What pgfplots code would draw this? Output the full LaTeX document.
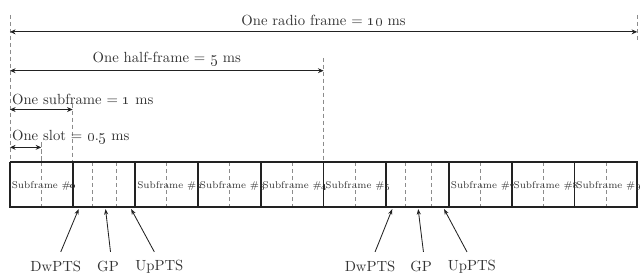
\documentclass[border=0pt]{standalone}
\usepackage{pgfplots}
\pgfplotsset{compat=1.18}
\usetikzlibrary{arrows.meta}
\definecolor{txt}{HTML}{333333}
\definecolor{ln}{HTML}{222222}
\definecolor{dsh}{HTML}{8C8C8C}
\newcommand{\os}[1]{\oldstylenums{#1}}
\tikzset{sflab/.style={txt, anchor=west, inner sep=0pt, font=\fontsize{7.0}{8}\selectfont}}
\begin{document}
\begin{tikzpicture}
\begin{axis}[
  width=16.03cm, height=6.952cm, scale only axis, hide axis, clip=false,
  xmin=-0.1587, xmax=10.016, ymin=0, ymax=278, y dir=reverse,
]
\path (rel axis cs:0,0) rectangle (rel axis cs:1,1);
% vertical dashed guides
\addplot[dsh, densely dashed, line width=0.5pt] coordinates {(0,15) (0,163)};
\addplot[dsh, densely dashed, line width=0.5pt] coordinates {(5,58) (5,163)};
\addplot[dsh, densely dashed, line width=0.5pt] coordinates {(10,15) (10,40)};
\addplot[dsh, densely dashed, line width=0.5pt] coordinates {(1,104) (1,163)};
\addplot[dsh, densely dashed, line width=0.5pt] coordinates {(0.5,143) (0.5,163)};
% slot dashed lines inside subframes
\foreach \k in {0,2,3,4,5,7,8,9} {
  \addplot[dsh, densely dashed, line width=0.4pt] coordinates {(\k+0.5,163) (\k+0.5,208)};
}
% special subframe field boundaries
\addplot[dsh, densely dashed, line width=0.4pt] coordinates {(1.31,163) (1.31,208)};
\addplot[dsh, densely dashed, line width=0.4pt] coordinates {(1.70,163) (1.70,208)};
\addplot[dsh, densely dashed, line width=0.4pt] coordinates {(6.31,163) (6.31,208)};
\addplot[dsh, densely dashed, line width=0.4pt] coordinates {(6.71,163) (6.71,208)};
% frame box
\addplot[ln, line width=1.3pt] coordinates {(0,163) (10,163) (10,208) (0,208) (0,163)};
\foreach \k in {1,...,9} {
  \addplot[ln, line width=1.3pt] coordinates {(\k,163) (\k,208)};
}
% subframe labels
\node[sflab] at (axis cs:0.025,186.5) {Subframe \#\os{0}};
\node[sflab] at (axis cs:2.025,186.5) {Subframe \#\os{2}};
\node[sflab] at (axis cs:3.025,186.5) {Subframe \#\os{3}};
\node[sflab] at (axis cs:4.025,186.5) {Subframe \#\os{4}};
\node[sflab] at (axis cs:5.025,186.5) {Subframe \#\os{5}};
\node[sflab] at (axis cs:7.025,186.5) {Subframe \#\os{7}};
\node[sflab] at (axis cs:8.025,186.5) {Subframe \#\os{8}};
\node[sflab] at (axis cs:9.025,186.5) {Subframe \#\os{9}};
% duration arrows
\addplot[ln, line width=0.9pt, {Stealth[length=4pt,width=3.5pt]}-{Stealth[length=4pt,width=3.5pt]}] coordinates {(0,32) (10,32)};
\addplot[ln, line width=0.9pt, {Stealth[length=4pt,width=3.5pt]}-{Stealth[length=4pt,width=3.5pt]}] coordinates {(0,71) (5,71)};
\addplot[ln, line width=0.9pt, {Stealth[length=4pt,width=3.5pt]}-{Stealth[length=4pt,width=3.5pt]}] coordinates {(0,110) (1,110)};
\addplot[ln, line width=0.9pt, {Stealth[length=4pt,width=3.5pt]}-{Stealth[length=4pt,width=3.5pt]}] coordinates {(0,148) (0.5,148)};
\node[txt, font=\fontsize{10.5}{12}\selectfont] at (axis cs:5,20.5) {One radio frame = \os{10} ms};
\node[txt, font=\fontsize{10.5}{12}\selectfont] at (axis cs:2.5,59.5) {One half-frame = \os{5} ms};
\node[txt, anchor=west, inner sep=0pt, font=\fontsize{10.5}{12}\selectfont] at (axis cs:0.03,100) {One subframe = \os{1} ms};
\node[txt, anchor=west, inner sep=0pt, font=\fontsize{10.5}{12}\selectfont] at (axis cs:0.03,137.5) {One slot = \os{0}.\os{5} ms};
% pointer arrows
\addplot[ln, line width=0.6pt, -{Stealth[length=4pt,width=3pt]}] coordinates {(0.810,253) (1.095,210)};
\addplot[ln, line width=0.6pt, -{Stealth[length=4pt,width=3pt]}] coordinates {(1.603,253) (1.524,210)};
\addplot[ln, line width=0.6pt, -{Stealth[length=4pt,width=3pt]}] coordinates {(2.302,253) (1.932,210)};
\addplot[ln, line width=0.6pt, -{Stealth[length=4pt,width=3pt]}] coordinates {(5.821,253) (6.095,210)};
\addplot[ln, line width=0.6pt, -{Stealth[length=4pt,width=3pt]}] coordinates {(6.592,253) (6.508,210)};
\addplot[ln, line width=0.6pt, -{Stealth[length=4pt,width=3pt]}] coordinates {(7.286,253) (6.921,210)};
\node[txt, font=\fontsize{10.5}{12}\selectfont] at (axis cs:0.730,268) {DwPTS};
\node[txt, font=\fontsize{10.5}{12}\selectfont] at (axis cs:1.563,268) {GP};
\node[txt, font=\fontsize{10.5}{12}\selectfont] at (axis cs:2.381,268) {UpPTS};
\node[txt, font=\fontsize{10.5}{12}\selectfont] at (axis cs:5.741,268) {DwPTS};
\node[txt, font=\fontsize{10.5}{12}\selectfont] at (axis cs:6.556,268) {GP};
\node[txt, font=\fontsize{10.5}{12}\selectfont] at (axis cs:7.365,268) {UpPTS};
\end{axis}
\end{tikzpicture}
\end{document}
